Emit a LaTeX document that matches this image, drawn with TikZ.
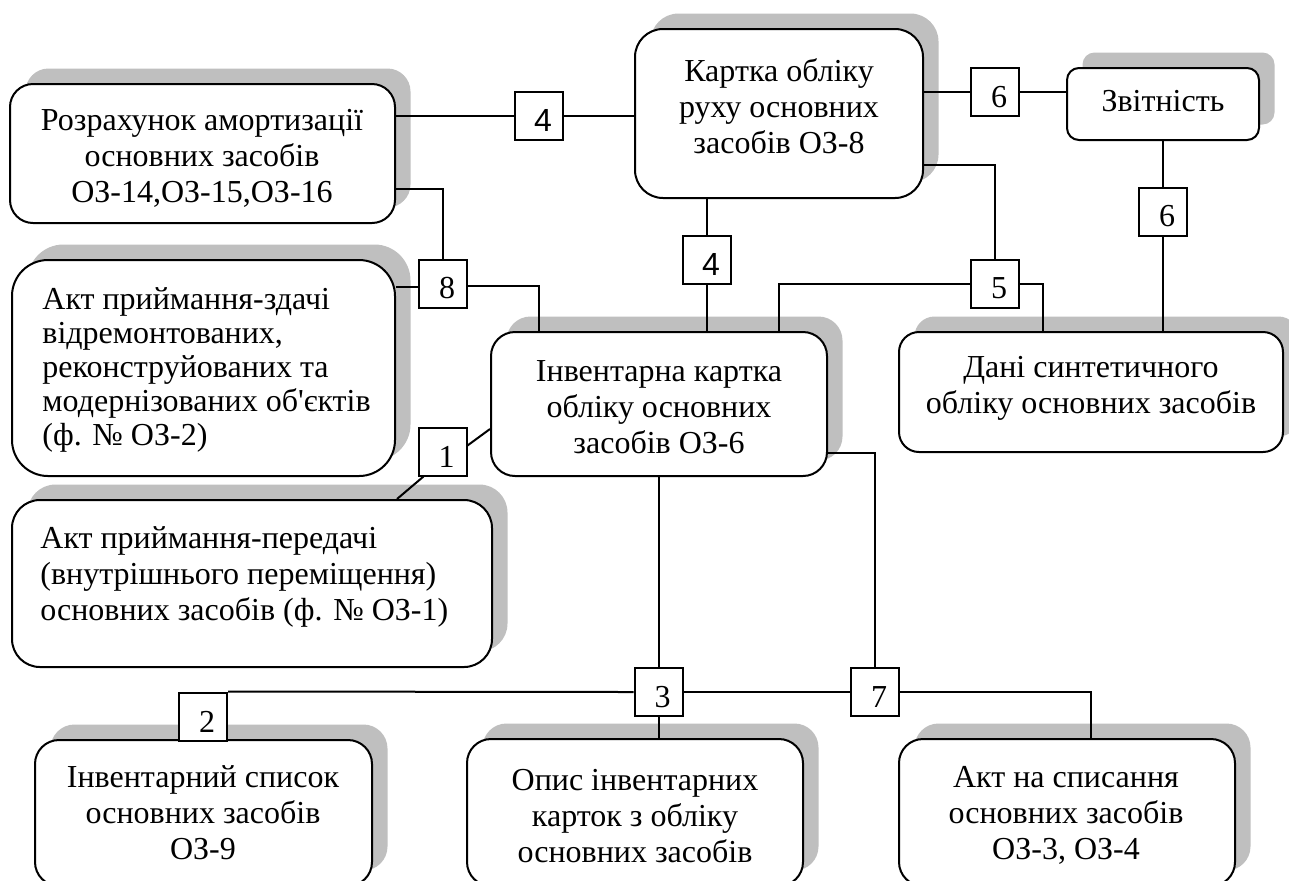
\documentclass[tikz,border=0pt]{standalone}
\usepackage{fontspec}
\setmainfont{Liberation Serif}
\newfontfamily\numsans{Liberation Sans}
\usetikzlibrary{shadows,calc}
\definecolor{shadowgray}{RGB}{191,191,191}
\tikzset{
  bx/.style={draw=black, line width=1pt, fill=white, rounded corners=#1, inner sep=0pt,
    general shadow={shadow xshift=7.75pt, shadow yshift=7.75pt, fill=shadowgray, draw=none}},
  bx/.default=12pt,
  txt/.style={inner sep=0pt, align=center, font=\fontsize{16}{18}\selectfont},
  txtl/.style={inner sep=0pt, align=left, anchor=west, font=\fontsize{16}{18}\selectfont},
  numlab/.style={inner sep=0pt, font=\fontsize{16}{18}\selectfont, xshift=2pt, yshift=-2.5pt},
  nb/.style={draw=black, line width=1pt, fill=white, minimum width=24pt, minimum height=24pt,
    inner sep=0pt, label={[numlab]center:#1}},
  ln/.style={draw=black, line width=1pt}
}
\begin{document}
\begin{tikzpicture}[x=0.5pt,y=-0.5pt]
\useasboundingbox (0,0) rectangle (1289,880);

% main boxes
\node[bx=11.5pt, minimum width=192.5pt, minimum height=69.5pt] (rozr) at (202.5,153.5) {};
\node[txt] (rozrt) at (202,158) {Розрахунок амортизації\\основних засобів\\ОЗ-14,ОЗ-15,ОЗ-16};

\node[bx=14pt, minimum width=144pt, minimum height=84.5pt] (kart) at (779,113.5) {};
\node[txt] (kartt) at (779,106) {Картка обліку\\руху основних\\засобів ОЗ-8};

\node[bx=6pt, minimum width=96pt, minimum height=36pt] (zvit) at (1163,104) {};
\node[txt] (zvitt) at (1163,101) {Звітність};

\node[bx=18pt, minimum width=191.5pt, minimum height=108pt] (zdachi) at (203.5,368) {};
\node[txtl, font=\fontsize{16}{17}\selectfont] (zdachit) at (42,370) {Акт приймання-здачі\\відремонтованих,\\реконструйованих та\\модернізованих об\textquotesingle єктів\\(ф. № ОЗ-2)};

\node[bx=12pt, minimum width=168pt, minimum height=72pt] (inv) at (659,404) {};
\node[txt] (invt) at (659,407.5) {Інвентарна картка\\обліку основних\\засобів ОЗ-6};

\node[bx=10pt, minimum width=192pt, minimum height=60pt] (dani) at (1091,392) {};
\node[txt] (danit) at (1091,388.5) {Дані синтетичного\\обліку основних засобів};

\node[bx=14pt, minimum width=240pt, minimum height=83.5pt] (pered) at (252,583.5) {};
\node[txtl] (peredt) at (40,577) {Акт приймання-передачі\\(внутрішнього переміщення)\\основних засобів (ф. № ОЗ-1)};

\node[bx=12pt, minimum width=168.5pt, minimum height=73pt] (spysok) at (203.5,813) {};
\node[txt] (spysokt) at (203,813) {Інвентарний список\\основних засобів\\ОЗ-9};

\node[bx=12pt, minimum width=168pt, minimum height=73.5pt] (opis) at (635,812.5) {};
\node[txt] (opist) at (635,816) {Опис інвентарних\\карток з обліку\\основних засобів};

\node[bx=12pt, minimum width=168pt, minimum height=73.5pt] (spys) at (1067,812.5) {};
\node[txt] (spyst) at (1066,815) {Акт на списання\\основних засобів\\ОЗ-3, ОЗ-4};

% number boxes
\node[nb={\numsans 4}] (n4a) at (539,115.5) {};
\node[nb=6] (n6a) at (995,92) {};
\node[nb=6] (n6b) at (1163,211.5) {};
\node[nb=5] (n5) at (995,283.5) {};
\node[nb={\numsans 4}] (n4b) at (707,259.5) {};
\node[nb=8] (n8) at (443,283.5) {};
\node[nb=1] (n1) at (442.5,451.5) {};
\node[nb=2] (n2) at (203,716.5) {};
\node[nb=3] (n3) at (658.5,692) {};
\node[nb=7] (n7) at (875,692) {};

% connectors
\draw[ln] (n4a.west -| rozr.east) -- (n4a.west);
\draw[ln] (n4a.east) -- (n4a.east -| kart.west);
\draw[ln] (n6a.west -| kart.east) -- (n6a.west);
\draw[ln] (n6a.east) -- (n6a.east -| zvit.west);
\draw[ln] (zvit.south) -- (n6b.north);
\draw[ln] (n6b.south) -- (n6b.south |- dani.north);
\draw[ln] ([yshift=17pt]kart.south east) -| (n5.north);
\draw[ln] (n4b.north |- kart.south) -- (n4b.north);
\draw[ln] (n4b.south) -- (n4b.south |- inv.north);
\draw[ln] (n5.west) -| ([xshift=60pt]inv.north);
\draw[ln] (n5.east) -| ([xshift=-24pt]dani.north);
\draw[ln] ([yshift=17.5pt]rozr.south east) -| (n8.north);
\draw[ln] ([yshift=-1.5pt]n8.west -| zdachi.east) -- ([yshift=-1.5pt]n8.west);
\draw[ln] ([yshift=-1pt]n8.east) -| ([xshift=-60pt]inv.north);
\draw[ln] ([yshift=3pt]n1.east) -- ([yshift=-12.5pt]inv.west);
\draw[ln] ([xshift=3pt]n1.south west) -- ([xshift=72.5pt]pered.north);
\draw[ln] (n3.north |- inv.south) -- (n3.north);
\draw[ln] (n3.south) -- (n3.south |- opis.north);
\draw[ln] (n2.north east) -- (n3.west);
\draw[ln] (n3.east) -- (n7.west);
\draw[ln] ([yshift=12pt]inv.south east) -| (n7.north);
\draw[ln] (n7.east) -| ([xshift=12pt]spys.north);
\end{tikzpicture}
\end{document}
